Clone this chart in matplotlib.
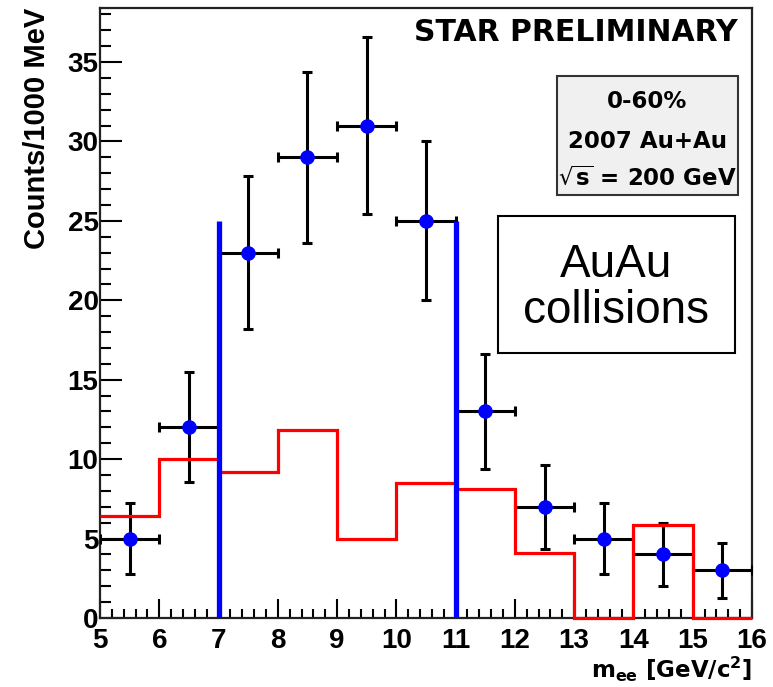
import matplotlib
matplotlib.use("Agg")
import matplotlib.pyplot as plt
from matplotlib.patches import Rectangle
from matplotlib.ticker import MultipleLocator

plt.rcParams["font.family"] = ["Liberation Sans", "DejaVu Sans"]
plt.rcParams["mathtext.fontset"] = "dejavusans"
plt.rcParams["mathtext.default"] = "bf"

# Measured dielectron yield per 1 GeV mass bin
mass_centers = [5.5, 6.5, 7.5, 8.5, 9.5, 10.5, 11.5, 12.5, 13.5, 14.5, 15.5]
counts = [5, 12, 23, 29, 31, 25, 13, 7, 5, 4, 3]
count_errors = [2.24, 3.46, 4.8, 5.39, 5.57, 5.0, 3.6, 2.65, 2.24, 2.0, 1.73]
mass_half_width = [0.5] * len(mass_centers)

# Background estimate (like-sign) histogram
bkg_edges = [5, 6, 7, 8, 9, 10, 11, 12, 13, 14, 15, 16]
bkg_values = [6.4, 10.0, 9.2, 11.85, 5.0, 8.5, 8.15, 4.1, 0.0, 5.85, 0.0]

# Upsilon mass window
window_edges = [7, 11]
window_height = 25

fig = plt.figure(figsize=(7.73, 6.87), dpi=100)
ax = fig.add_axes([100 / 773, 69 / 687, 652 / 773, 610 / 687])

ax.stairs(bkg_values, bkg_edges, baseline=None, color="#ff0000", lw=2.3,
          zorder=5, clip_on=False)

ax.errorbar(mass_centers, counts, yerr=count_errors, xerr=mass_half_width,
            fmt="o", color="#0000ff", ms=9.5, mec="#0000ff",
            ecolor="black", elinewidth=2.2, capsize=3.5, capthick=2.2,
            zorder=4)

ax.vlines(window_edges, 0, window_height, color="#0000ff", lw=3.8, zorder=6)

ax.set_xlim(5, 16)
ax.set_ylim(0, 38.4)
ax.xaxis.set_major_locator(MultipleLocator(1))
ax.xaxis.set_minor_locator(MultipleLocator(0.2))
ax.yaxis.set_major_locator(MultipleLocator(5))
ax.yaxis.set_minor_locator(MultipleLocator(1))

ax.tick_params(axis="both", which="both", direction="in", width=1.5,
               top=False, right=False, colors="black")
ax.tick_params(axis="x", which="major", length=14, pad=7.5)
ax.tick_params(axis="x", which="minor", length=6.5)
ax.tick_params(axis="y", which="major", length=16, pad=1)
ax.tick_params(axis="y", which="minor", length=8)
for lab in ax.get_xticklabels() + ax.get_yticklabels():
    lab.set_fontsize(20)
    lab.set_fontweight("bold")

for sp in ax.spines.values():
    sp.set_linewidth(1.6)
    sp.set_color("#222222")

ax.set_ylabel("Counts/1000 MeV", fontsize=21, fontweight="bold",
              loc="top", labelpad=12)
ax.set_xlabel(r"$m_{ee}$ [GeV/c$^{2}$]", fontsize=16.5, fontweight="bold",
              family="DejaVu Sans", loc="right", labelpad=0.5)

H = 687.0
W = 773.0


def fx(px):
    return px / W


def fy(py):
    return 1 - py / H


fig.text(fx(738), fy(32.5), "STAR PRELIMINARY", ha="right", va="center",
         fontsize=21.5, fontweight="bold", family="DejaVu Sans")

fig.add_artist(Rectangle((fx(557), fy(195)), fx(738) - fx(557),
                         fy(76) - fy(195), transform=fig.transFigure,
                         facecolor="#f0f0f0", edgecolor="#333333", lw=1.5))
fig.text(fx(647), fy(102), "0-60%", ha="center", va="center",
         fontsize=16.5, fontweight="bold", family="DejaVu Sans")
fig.text(fx(647), fy(141), "2007 Au+Au", ha="center", va="center",
         fontsize=16.5, fontweight="bold", family="DejaVu Sans")
fig.text(fx(647), fy(178), r"$\sqrt{s}$ = 200 GeV", ha="center",
         va="center", fontsize=16.5, fontweight="bold", family="DejaVu Sans")

fig.add_artist(Rectangle((fx(498), fy(353)), fx(735) - fx(498),
                         fy(216) - fy(353), transform=fig.transFigure,
                         facecolor="white", edgecolor="black", lw=1.5))
fig.text(fx(616), fy(265), "AuAu", ha="center", va="center", fontsize=33)
fig.text(fx(616), fy(311), "collisions", ha="center", va="center",
         fontsize=33)

fig.savefig("out.png", dpi=100)
